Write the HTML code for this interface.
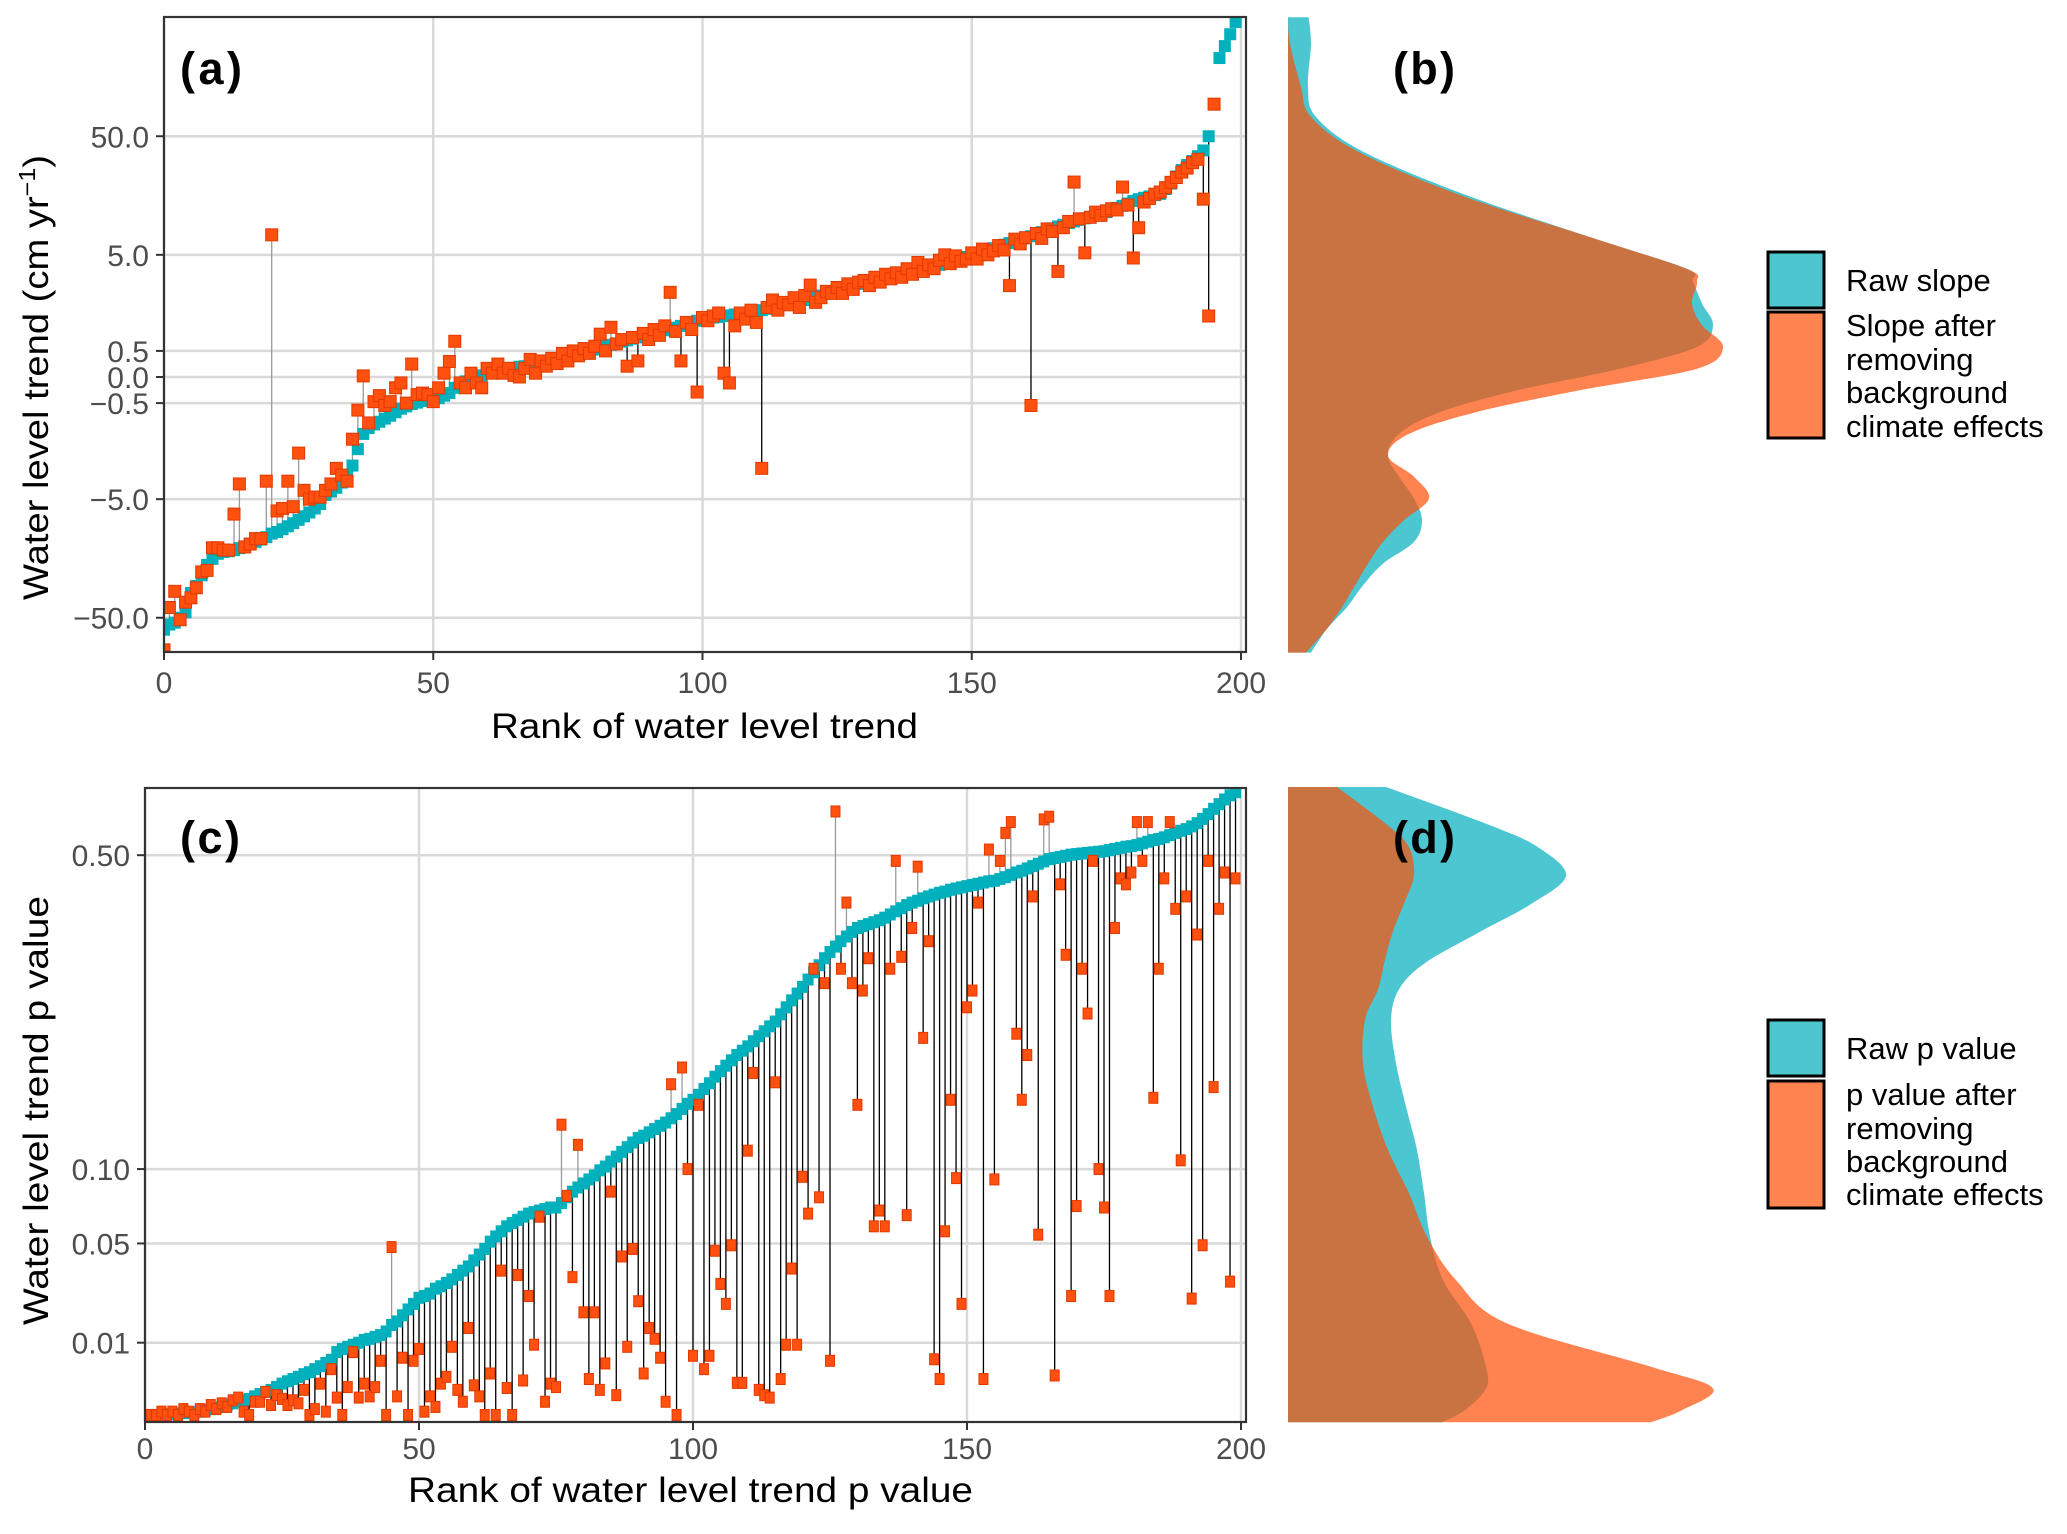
<!DOCTYPE html>
<html><head><meta charset="utf-8"><style>
html,body{margin:0;padding:0;background:#fff}
svg{display:block}
text{font-family:"Liberation Sans",Arial,sans-serif}
</style></head><body>
<svg id="fig" width="2067" height="1534" viewBox="0 0 2067 1534" xmlns="http://www.w3.org/2000/svg">
<defs>
<clipPath id="clipA"><rect x="164" y="17" width="1082" height="635"/></clipPath>
<clipPath id="clipC"><rect x="145" y="788" width="1101" height="634"/></clipPath>
</defs>
<g id="panelA"></g>
<g id="panelB"></g>
<g id="panelC"></g>
<g id="panelD"></g>
<text x="180" y="84" font-size="45" font-weight="bold" textLength="62">(a)</text>
<text x="1393" y="84" font-size="45" font-weight="bold" textLength="62">(b)</text>
<text x="180" y="853" font-size="45" font-weight="bold" textLength="60">(c)</text>
<text x="491" y="738" font-size="35" textLength="427" lengthAdjust="spacingAndGlyphs">Rank of water level trend</text>
<text x="408" y="1502" font-size="35" textLength="565" lengthAdjust="spacingAndGlyphs">Rank of water level trend p value</text>
<text transform="translate(48,600) rotate(-90)" font-size="35" textLength="445" lengthAdjust="spacingAndGlyphs">Water level trend (cm yr<tspan dy="-13" font-size="23">−1</tspan><tspan dy="13">)</tspan></text>
<text transform="translate(48,1325) rotate(-90)" font-size="35" textLength="429" lengthAdjust="spacingAndGlyphs">Water level trend p value</text>
<g>
<rect x="1768" y="252" width="56" height="56" fill="#4DC6D0" stroke="#000" stroke-width="3"/>
<rect x="1768" y="312" width="56" height="126" fill="#FF8450" stroke="#000" stroke-width="3"/>
<text x="1846" y="291" font-size="31">Raw slope</text>
<text font-size="31"><tspan x="1846" y="336">Slope after</tspan><tspan x="1846" y="370">removing</tspan><tspan x="1846" y="403">background</tspan><tspan x="1846" y="437">climate effects</tspan></text>
</g>
<g>
<rect x="1768" y="1020" width="56" height="56" fill="#4DC6D0" stroke="#000" stroke-width="3"/>
<rect x="1768" y="1081" width="56" height="127" fill="#FF8450" stroke="#000" stroke-width="3"/>
<text x="1846" y="1059" font-size="31">Raw p value</text>
<text font-size="31"><tspan x="1846" y="1105">p value after</tspan><tspan x="1846" y="1139">removing</tspan><tspan x="1846" y="1172">background</tspan><tspan x="1846" y="1205">climate effects</tspan></text>
</g>
</svg>
<script>
// ---------- Panel (a) data ----------
const aRawSlope = [-63,-57,-55,-50,-45,-31,-27,-22,-18,-16,
-14.5,-14,-13.8,-13.5,-13,-12.6,-12,-11.5,-11,-10.5,
-9.8,-9.5,-9,-8.5,-8,-7.5,-7,-6.5,-6,-5.5,
-4.6,-4.3,-4,-3.6,-3.2,-2.55,-1.8,-1.27,-1.1,-1.0,
-0.93,-0.85,-0.78,-0.7,-0.62,-0.57,-0.52,-0.49,-0.46,-0.44,
-0.43,-0.4,-0.35,-0.3,-0.2,-0.11,-0.08,-0.05,0.0,0.03,
0.07,0.09,0.11,0.13,0.15,0.17,0.19,0.2,0.21,0.23,
0.24,0.27,0.3,0.33,0.36,0.39,0.42,0.45,0.48,0.5,
0.53,0.56,0.6,0.63,0.66,0.7,0.73,0.77,0.8,0.84,
0.87,0.9,0.94,0.98,1.02,1.05,1.1,1.15,1.2,1.25,
1.3,1.32,1.35,1.37,1.4,1.42,1.45,1.47,1.5,1.52,
1.55,1.6,1.65,1.7,1.75,1.8,1.85,1.9,1.95,2.0,
2.1,2.15,2.2,2.3,2.35,2.45,2.5,2.6,2.7,2.8,
2.85,2.9,3.0,3.1,3.2,3.3,3.4,3.5,3.6,3.65,
3.7,3.8,3.9,4.0,4.1,4.2,4.4,4.5,4.7,4.8,
4.9,5.1,5.3,5.5,5.7,5.9,6.1,6.3,6.5,6.7,
6.9,7.2,7.5,7.8,8.1,8.4,8.7,9.0,9.3,9.6,
9.9,10.2,10.5,10.9,11.2,11.5,12,12.5,13,13.6,
14.3,14.8,15.2,15.6,16,16.4,18,20,23,26,
28.7,31,34,38,50,93,227,286,360,456];
const aAdjSlope = [-93,-41,-30,-52,-37,-34,-28,-20.6,-20,-12.9,
-12.9,-13.5,-13.5,-6.7,-3.7,-12.7,-12,-10.8,-10.8,-3.5,
7.4,-6.3,-6,-3.5,-5.8,-1.96,-4.2,-5,-4.8,-4.8,
-4.2,-3.7,-2.7,-3.1,-3.5,-1.44,-0.65,0.02,-0.96,-0.47,
-0.35,-0.55,-0.47,-0.2,-0.11,-0.5,0.24,-0.33,-0.3,-0.33,
-0.47,-0.2,0.07,0.29,0.71,-0.11,-0.2,0.07,-0.11,-0.2,
0.16,0.07,0.24,0.07,0.16,0.03,0.0,0.16,0.33,0.07,
0.3,0.2,0.35,0.25,0.45,0.3,0.5,0.4,0.55,0.45,
0.6,0.88,0.5,1.06,0.65,0.75,0.2,0.8,0.3,0.9,
0.75,1.0,0.85,1.1,2.35,0.95,0.3,1.2,1.0,-0.28,
1.35,1.25,1.4,1.5,0.07,-0.11,1.1,1.5,1.3,1.6,
1.2,-2.7,1.7,2.0,1.6,1.9,1.8,2.1,1.7,2.2,
2.73,1.9,2.1,2.4,2.3,2.6,2.3,2.8,2.5,2.9,
3.0,2.7,3.2,2.9,3.4,3.1,3.5,3.2,3.8,3.4,
4.3,3.6,4.1,3.8,4.5,5.0,4.2,4.9,4.4,4.6,
5.2,4.6,5.6,5.0,5.4,6.0,5.5,2.7,6.8,6.2,
7.0,-0.55,7.6,6.9,8.3,7.9,3.6,8.5,9.6,20.6,
10.1,5.2,10.4,11.5,10.8,11.8,12.3,12.0,18.7,13.2,
4.7,8.5,14.0,15.0,16.3,17.0,18.5,20.5,22.5,25,
27,30,32,14.8,1.4,93,null,null,null,null];
const aXTicks = [0,50,100,150,200];
const aYTicks = [-50,-5,-0.5,0,0.5,5,50];
const aYTickLabels = ["−50.0","−5.0","−0.5","0.0","0.5","5.0","50.0"];

// ---------- Panel (b) density data ----------
const bEvalU = [6.96,6.45,5.61,5.03,4.36,3.52,2.68,2.09,1.84,1.42,1.0,0.58,0.16,-0.26,-0.68,-1.1,-1.52,-1.93,-2.35,-2.77,-3.19,-3.61,-4.03,-4.45,-4.87,-5.33];
const bRawDens = [0.0206,0.023,0.020,0.028,0.075,0.178,0.306,0.399,0.405,0.414,0.425,0.409,0.332,0.229,0.152,0.111,0.100,0.111,0.126,0.134,0.126,0.095,0.075,0.059,0.039,0.023];
const bAdjDens = [0.0,0.002,0.013,0.023,0.070,0.172,0.306,0.399,0.409,0.404,0.414,0.435,0.409,0.291,0.188,0.121,0.100,0.126,0.141,0.116,0.095,0.080,0.067,0.054,0.039,0.018];

// ---------- Panel (c) data ----------
const cRawP = [.00007,.0001,.0001,.0001,.00012,.00012,.00013,.00015,.00016,.00018,
.0002,.00025,.0003,.00035,.0004,.0005,.0006,.0007,.0008,.0009,
.0011,.0013,.0015,.0017,.002,.0024,.0027,.003,.0033,.0037,
.004,.0045,.005,.0056,.0062,.0078,.0085,.009,.0095,.01,
.0107,.011,.0115,.012,.013,.0149,.016,.018,.02,.022,
.0243,.025,.026,.028,.029,.0304,.032,.034,.036,.038,
.041,.044,.047,.051,.054,.057,.06,.062,.064,.066,
.068,.069,.07,.071,.072,.072,.075,.079,.083,.086,
.089,.092,.095,.099,.102,.106,.11,.114,.118,.122,
.126,.128,.131,.134,.137,.14,.144,.148,.153,.158,
.162,.167,.173,.179,.186,.192,.198,.204,.21,.215,
.22,.226,.232,.238,.244,.25,.259,.268,.277,.286,
.295,.305,.315,.325,.335,.344,.352,.36,.367,.374,
.38,.383,.386,.389,.392,.396,.401,.406,.411,.416,
.42,.423,.427,.43,.433,.436,.438,.441,.443,.445,
.447,.449,.451,.453,.455,.456,.459,.462,.466,.47,
.473,.477,.481,.485,.489,.493,.495,.497,.499,.501,
.502,.503,.504,.505,.506,.507,.509,.511,.513,.515,
.516,.518,.521,.524,.527,.529,.532,.536,.54,.544,
.547,.552,.558,.566,.575,.585,.594,.603,.611,.617];
const cAdjP = [.0001,.0001,.0001,.0002,.0001,.0002,.0001,.0003,.0002,.0001,
.0003,.0002,.0005,.0003,.0006,.0004,.0008,.001,.0002,.0001,
.0007,.0007,.0015,.0005,.0012,.0009,.0005,.0008,.0006,.0017,
.0001,.0003,.0024,.0002,.0045,.001,.0001,.002,.0078,.001,
.0024,.0011,.002,.006,.0001,.048,.0011,.0066,.0001,.006,
.0085,.0002,.0011,.0004,.0024,.0033,.009,.0017,.0007,.014,
.0022,.0011,.0001,.0038,.0001,.036,.0019,.0001,.034,.0028,
.025,.0095,.066,.0007,.0024,.002,.138,.08,.033,.12,
.019,.003,.019,.0017,.0055,.083,.0012,.043,.009,.047,
.023,.0038,.014,.011,.0066,.0007,.178,.0001,.196,.1,
.007,.157,.0045,.007,.046,.03,.022,.049,.0025,.0025,
.115,.19,.0017,.0012,.001,.18,.003,.0095,.037,.0095,
.094,.068,.32,.079,.30,.006,.58,.32,.42,.3,
.157,.29,.335,.06,.07,.06,.32,.49,.337,.067,
.38,.48,.23,.36,.0063,.003,.057,.162,.093,.022,
.268,.29,.42,.003,.51,.092,.49,.54,.56,.235,
.162,.21,.43,.055,.565,.57,.0035,.45,.34,.025,
.073,.32,.26,.49,.1,.072,.025,.38,.46,.45,
.47,.56,.49,.56,.164,.32,.46,.56,.41,.107,
.43,.024,.37,.049,.49,.175,.41,.47,.031,.46];
const cXTicks = [0,50,100,150,200];
const cYTicks = [0.01,0.05,0.10,0.50];
const cYTickLabels = ["0.01","0.05","0.10","0.50"];

// ---------- Panel (d) density data ----------
const dEvalS = [.792,.744,.717,.682,.647,.609,.572,.54,.502,.448,.394,.34,.286,.232,.178,.124,.07,.043,.016,.001];
const dRawDens = [0.098,0.203,0.250,0.278,0.244,0.188,0.136,0.111,0.103,0.108,0.118,0.129,0.136,0.142,0.155,0.183,0.198,0.198,0.177,0.154];
const dAdjDens = [0.049,0.100,0.121,0.126,0.116,0.104,0.096,0.090,0.077,0.075,0.085,0.100,0.121,0.139,0.168,0.219,0.363,0.425,0.394,0.363];

const NS = "http://www.w3.org/2000/svg";
function mk(tag, attrs, parent){const e=document.createElementNS(NS,tag);for(const k in attrs)e.setAttribute(k,attrs[k]);parent.appendChild(e);return e;}

const ax = r => 164 + r*5.385;
const ay = v => 377 - 51.7*Math.asinh(v/0.95);
const cx = r => 145 + r*5.48;
const cy = p => 1423 - 803*Math.sqrt(p);
const bY = u => 377 - 51.7*u;
const dY = s => 1423 - 803*s;
const densX = d => 1288 + d*1000;

const CYAN="#00B0BC", ORANGE="#FF5010", GRID="#d9d9d9", TXT="#4d4d4d";

(function(){
const g=document.getElementById('panelA');
aXTicks.forEach(t=>{
 const l=mk('line',{x1:ax(t),x2:ax(t),y1:17,y2:652,stroke:GRID,'stroke-width':2.5},g);
 
 
 const tk=mk('line',{x1:ax(t),x2:ax(t),y1:652,y2:660,stroke:'#333','stroke-width':2},g);
 
 
 const tx=mk('text',{x:ax(t),y:693,'font-size':30,'text-anchor':'middle',fill:TXT},g);
 tx.textContent=t;
 
 
});
aYTicks.forEach((t,i)=>{
 const l=mk('line',{x1:164,x2:1246,y1:ay(t),y2:ay(t),stroke:GRID,'stroke-width':2.5},g);
 
 
 const tk=mk('line',{x1:156,x2:164,y1:ay(t),y2:ay(t),stroke:'#333','stroke-width':2},g);
 
 
 const tx=mk('text',{x:149,y:ay(t)+11,'font-size':30,'text-anchor':'end',fill:TXT},g);
 tx.textContent=aYTickLabels[i];
 
 
});
const pg=mk('g',{'clip-path':'url(#clipA)'},g);
aRawSlope.forEach((v,i)=>{
 const o=aAdjSlope[i]; if(o===null) return;
 const s=mk('line',{x1:ax(i),x2:ax(i),y1:ay(v),y2:ay(o),stroke:o>v?'#9a9a9a':'#000','stroke-width':1.3},pg);
 
 
});
aRawSlope.forEach((v,i)=>{
 const r=mk('rect',{x:ax(i)-6,y:ay(v)-6,width:12,height:12,fill:CYAN},pg);
 
 
});
aAdjSlope.forEach((v,i)=>{
 if(v===null) return;
 const r=mk('rect',{x:ax(i)-6,y:ay(v)-6,width:12,height:12,fill:ORANGE,stroke:'#E03A00','stroke-width':1},pg);
 
 
});
const b=mk('rect',{x:164,y:17,width:1082,height:635,fill:'none',stroke:'#333','stroke-width':2.2},g);


})();

function densPoly(g,evalArr,dens,yf,fill,name){
 const P=evalArr.map((u,i)=>[densX(dens[i]),yf(u)]);
 let d='M1288,'+P[0][1].toFixed(1)+' L'+P[0][0].toFixed(1)+','+P[0][1].toFixed(1);
 for(let i=0;i<P.length-1;i++){
  const p0=P[Math.max(0,i-1)],p1=P[i],p2=P[i+1],p3=P[Math.min(P.length-1,i+2)];
  const c1=[p1[0]+(p2[0]-p0[0])/6,p1[1]+(p2[1]-p0[1])/6];
  const c2=[p2[0]-(p3[0]-p1[0])/6,p2[1]-(p3[1]-p1[1])/6];
  d+=' C'+c1[0].toFixed(1)+','+c1[1].toFixed(1)+' '+c2[0].toFixed(1)+','+c2[1].toFixed(1)+' '+p2[0].toFixed(1)+','+p2[1].toFixed(1);
 }
 d+=' L1288,'+P[P.length-1][1].toFixed(1)+' Z';
 const p=mk('path',{d:d,fill:fill,'fill-opacity':0.7},g);
 
 
}
(function(){
 const g=document.getElementById('panelB');
 densPoly(g,bEvalU,bRawDens,bY,'#00AEBC','raw-slope-density');
 densPoly(g,bEvalU,bAdjDens,bY,'#FF4F05','adjusted-slope-density');
})();

(function(){
const g=document.getElementById('panelC');
cXTicks.forEach(t=>{
 const l=mk('line',{x1:cx(t),x2:cx(t),y1:788,y2:1422,stroke:GRID,'stroke-width':2.5},g);
 
 
 const tk=mk('line',{x1:cx(t),x2:cx(t),y1:1422,y2:1430,stroke:'#333','stroke-width':2},g);
 
 
 const tx=mk('text',{x:cx(t),y:1459,'font-size':30,'text-anchor':'middle',fill:TXT},g);
 tx.textContent=t;
 
 
});
cYTicks.forEach((t,i)=>{
 const l=mk('line',{x1:145,x2:1246,y1:cy(t),y2:cy(t),stroke:GRID,'stroke-width':2.5},g);
 
 
 const tk=mk('line',{x1:137,x2:145,y1:cy(t),y2:cy(t),stroke:'#333','stroke-width':2},g);
 
 
 const tx=mk('text',{x:130,y:cy(t)+11,'font-size':30,'text-anchor':'end',fill:TXT},g);
 tx.textContent=cYTickLabels[i];
 
 
});
const pg=mk('g',{'clip-path':'url(#clipC)'},g);
cRawP.forEach((v,i)=>{
 const o=cAdjP[i];
 const s=mk('line',{x1:cx(i),x2:cx(i),y1:cy(v),y2:cy(o),stroke:o>v?'#9a9a9a':'#000','stroke-width':1.3},pg);
 
 
});
cRawP.forEach((v,i)=>{
 const r=mk('rect',{x:cx(i)-5.5,y:cy(v)-6,width:11,height:12,fill:CYAN},pg);
 
 
});
cAdjP.forEach((v,i)=>{
 const r=mk('rect',{x:cx(i)-4.5,y:cy(v)-5.5,width:9,height:11,fill:ORANGE,stroke:'#E03A00','stroke-width':1},pg);
 
 
});
const b=mk('rect',{x:145,y:788,width:1101,height:634,fill:'none',stroke:'#333','stroke-width':2.2},g);


})();

(function(){
 const g=document.getElementById('panelD');
 densPoly(g,dEvalS,dRawDens,dY,'#00AEBC','raw-p-density');
 densPoly(g,dEvalS,dAdjDens,dY,'#FF4F05','adjusted-p-density');
 const t=mk('text',{x:1393,y:853,'font-size':45,'font-weight':'bold',textLength:62},g);
 t.textContent='(d)';
 
 
})();
</script>
</body></html>
